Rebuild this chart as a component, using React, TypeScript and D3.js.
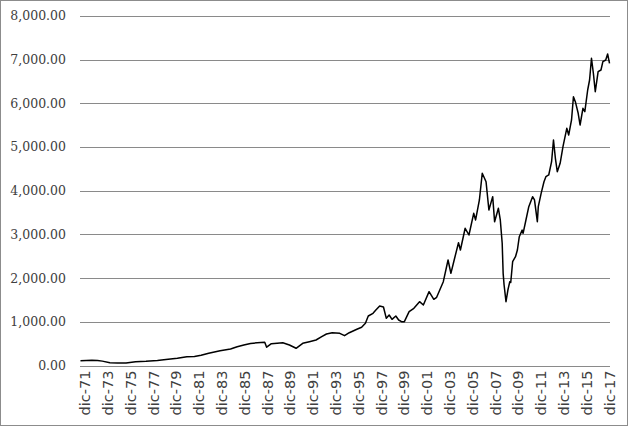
import { useEffect, useRef } from 'react'
import * as d3 from 'd3'

// monthly category axis, jul-71 .. dic-17
const FIRST_MONTH = '1971-07'
const LAST_MONTH = '2017-12'

const tickYears = [1971, 1973, 1975, 1977, 1979, 1981, 1983, 1985, 1987, 1989, 1991, 1993,
  1995, 1997, 1999, 2001, 2003, 2005, 2007, 2009, 2011, 2013, 2015, 2017]
const tickLabels = tickYears.map(y => 'dic-' + String(y).slice(2))

const yTicks = [0, 1000, 2000, 3000, 4000, 5000, 6000, 7000, 8000]

// index level
const seriesEarly: [string, number][] = [
  ['1971-07', 110], ['1972-07', 118], ['1973-01', 115], ['1973-06', 100], ['1974-02', 65],
  ['1974-10', 55], ['1975-07', 57], ['1976-05', 87], ['1977-04', 95], ['1978-04', 114],
  ['1979-01', 135], ['1980-01', 165], ['1980-11', 201], ['1981-07', 205], ['1982-02', 233],
  ['1982-10', 279], ['1983-10', 339], ['1984-09', 378], ['1985-04', 430], ['1985-11', 469],
  ['1986-06', 505], ['1987-01', 520], ['1987-09', 530], ['1987-11', 420], ['1988-04', 500],
  ['1989-04', 520], ['1989-11', 470], ['1990-06', 394], ['1991-01', 508], ['1991-08', 545],
  ['1992-03', 584], ['1992-09', 660], ['1993-02', 721], ['1993-08', 751], ['1994-04', 737],
  ['1994-09', 682], ['1995-02', 751], ['1995-10', 829], ['1996-03', 874], ['1996-07', 966],
  ['1996-10', 1133], ['1997-03', 1195], ['1997-06', 1270], ['1997-10', 1362], ['1998-02', 1340],
  ['1998-05', 1080], ['1998-08', 1156], ['1998-11', 1057], ['1999-03', 1133], ['1999-06', 1041],
  ['1999-09', 1003], ['1999-12', 1003],
]

const seriesLate: [string, number][] = [
  ['2000-05', 1232], ['2000-10', 1310], ['2001-04', 1461], ['2001-08', 1385], ['2002-02', 1690],
  ['2002-07', 1515], ['2002-10', 1561], ['2003-05', 1918], ['2003-10', 2415], ['2004-01', 2110],
  ['2004-04', 2376], ['2004-09', 2811], ['2004-11', 2644], ['2005-04', 3141], ['2005-08', 2987],
  ['2006-01', 3484], ['2006-03', 3331], ['2006-07', 3789], ['2006-10', 4400], ['2007-02', 4207],
  ['2007-05', 3560], ['2007-09', 3865], ['2007-11', 3292], ['2008-03', 3598], ['2008-05', 3331],
  ['2008-07', 2797], ['2008-08', 2110], ['2008-09', 1842], ['2008-11', 1461], ['2009-01', 1728],
  ['2009-03', 1918], ['2009-04', 1900], ['2009-06', 2376], ['2009-09', 2490], ['2009-11', 2644],
  ['2010-01', 2948], ['2010-04', 3100], ['2010-05', 3026], ['2010-08', 3331], ['2010-11', 3635],
  ['2011-03', 3864], ['2011-05', 3789], ['2011-08', 3292], ['2011-09', 3635], ['2011-12', 3941],
  ['2012-03', 4207], ['2012-05', 4322], ['2012-08', 4361], ['2012-11', 4665], ['2013-01', 5162],
  ['2013-03', 4743], ['2013-05', 4436], ['2013-08', 4628], ['2013-11', 5008], ['2014-03', 5430],
  ['2014-05', 5276], ['2014-08', 5620], ['2014-10', 6153], ['2014-12', 6039], ['2015-03', 5773],
  ['2015-05', 5505], ['2015-08', 5887], ['2015-10', 5810], ['2016-01', 6306], ['2016-03', 6535],
  ['2016-05', 7032], ['2016-07', 6689], ['2016-09', 6267], ['2016-12', 6725], ['2017-03', 6764],
  ['2017-05', 6954], ['2017-08', 6993], ['2017-10', 7130], ['2017-12', 6917],
]

function monthIndex(s: string) {
  const [y, m] = s.split('-').map(Number)
  const [y0, m0] = FIRST_MONTH.split('-').map(Number)
  return (y - y0) * 12 + (m - m0)
}

export default function App() {
  const svgRef = useRef<SVGSVGElement>(null)
  const width = 628
  const height = 426

  useEffect(() => {
    document.body.style.margin = '0'
    if (!svgRef.current) return
    const svg = d3.select(svgRef.current)
    svg.selectAll('*').remove()

    const margin = { top: 16, right: 18, bottom: 60.5, left: 80 }
    const nMonths = monthIndex(LAST_MONTH) + 1

    const x = d3.scaleLinear().domain([-0.5, nMonths - 0.5]).range([margin.left, width - margin.right])
    const y = d3.scaleLinear().domain([0, 8000]).range([height - margin.bottom, margin.top])

    svg.append('rect')
      .attr('x', 0.5).attr('y', 0.5)
      .attr('width', width - 1).attr('height', height - 1)
      .attr('fill', '#fff').attr('stroke', '#8c8c8c')

    // Grid
    svg.append('g')
      .selectAll('line')
      .data(yTicks)
      .join('line')
      .attr('x1', x.range()[0]).attr('x2', x.range()[1])
      .attr('y1', d => Math.round(y(d)) + 0.5).attr('y2', d => Math.round(y(d)) + 0.5)
      .attr('stroke', '#8a8a8a').attr('stroke-width', 1)

    svg.append('g')
      .selectAll('text')
      .data(yTicks)
      .join('text')
      .attr('x', 66)
      .attr('y', d => y(d))
      .attr('dy', '0.35em')
      .attr('text-anchor', 'end')
      .attr('font-family', "'DejaVu Serif', serif")
      .attr('font-size', 12.5)
      .attr('fill', '#404040')
      .text(d => d3.format(',.2f')(d))

    // X labels
    svg.append('g')
      .selectAll('text')
      .data(tickYears)
      .join('text')
      .attr('transform', d => `translate(${x(monthIndex(d + '-12'))},${height - margin.bottom + 5}) rotate(-90)`)
      .attr('dy', '0.35em')
      .attr('text-anchor', 'end')
      .attr('font-family', "'DejaVu Sans', sans-serif")
      .attr('font-size', 14.5)
      .attr('fill', '#404040')
      .text((d, i) => tickLabels[i])

    const series = [...seriesEarly, ...seriesLate]
    const line = d3.line<[string, number]>()
      .x(d => x(monthIndex(d[0])))
      .y(d => y(d[1]))

    svg.append('path')
      .datum(series)
      .attr('d', line)
      .attr('fill', 'none')
      .attr('stroke', '#000')
      .attr('stroke-width', 1.5)
      .attr('stroke-linejoin', 'round')
  }, [])

  return <svg ref={svgRef} width={width} height={height} style={{ display: 'block' }} />
}
